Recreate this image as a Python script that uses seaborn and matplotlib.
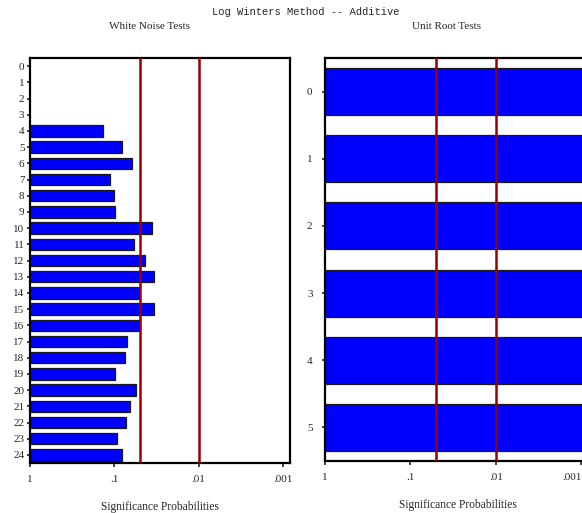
import numpy as np
import pandas as pd
import matplotlib
matplotlib.use("Agg")
import matplotlib.pyplot as plt
import seaborn as sns

sns.set_style("white")
plt.rcParams["font.family"] = ["Liberation Serif", "DejaVu Serif"]

# white noise test p-values by lag (lags 0-3 not computed)
wn_lags = list(range(25))
wn_pvals = [np.nan, np.nan, np.nan, np.nan,
            0.136, 0.081, 0.062, 0.113, 0.101, 0.098, 0.036, 0.059, 0.043,
            0.0335, 0.051, 0.0335, 0.050, 0.070, 0.075, 0.099, 0.056, 0.066,
            0.073, 0.094, 0.081]

# unit root test p-values (all far below .001)
ur_lags = [0, 1, 2, 3, 4, 5]
ur_pvals = [0.0001, 0.0001, 0.0001, 0.0001, 0.0001, 0.0001]

sig_levels = [0.05, 0.01]
tick_probs = [1, 0.1, 0.01, 0.001]
tick_labels = ["1", ".1", ".01", ".001"]

wn = pd.DataFrame({"lag": wn_lags, "nlp": -np.log10(wn_pvals)})
ur = pd.DataFrame({"lag": ur_lags, "nlp": -np.log10(ur_pvals)})

fig = plt.figure(figsize=(5.82, 5.13), dpi=100)
ax1 = fig.add_axes([30 / 582, 1 - 463 / 513, 260 / 582, 405 / 513])
ax2 = fig.add_axes([325 / 582, 1 - 461 / 513, 265 / 582, 403 / 513])


def panel(ax, df, order, xmax):
    sns.barplot(data=df, x="nlp", y="lag", orient="h", order=order,
                color="#0000FF", saturation=1, width=0.7,
                edgecolor="#1a1a1a", linewidth=0.9, ax=ax)
    for s in sig_levels:
        ax.axvline(-np.log10(s), color="#990000", lw=1.8, zorder=3)
    ax.set_xlim(0, xmax)
    ax.set_ylim(len(order) - 0.5, -0.5)
    ax.set_xticks(-np.log10(tick_probs))
    ax.set_xticklabels(tick_labels)
    ax.set_xlabel("Significance Probabilities", fontsize=8.3, labelpad=12)
    ax.set_ylabel("")
    ax.tick_params(axis="x", length=3, width=1.2, labelsize=8, pad=6,
                   bottom=True, direction="out")
    ax.tick_params(axis="y", length=2, width=1.2, labelsize=8, pad=2,
                   left=True, direction="out")
    for sp in ax.spines.values():
        sp.set_linewidth(1.6)
        sp.set_color("black")


panel(ax1, wn, wn_lags, 3.084)
panel(ax2, ur, ur_lags, 3.1)
ax2.tick_params(axis="y", pad=7)
ax2.get_xticklabels()[-1].set_horizontalalignment("right")

fig.text(306 / 582, 1 - 12 / 513, "Log Winters Method -- Additive", ha="center",
         va="center", fontsize=7.6, family=["Liberation Mono", "DejaVu Sans Mono"])
fig.text(150 / 582, 1 - 27 / 513, "White Noise Tests", ha="center",
         va="center", fontsize=8)
fig.text(446 / 582, 1 - 27 / 513, "Unit Root Tests", ha="center",
         va="center", fontsize=8)

plt.savefig("out.png", dpi=100)
